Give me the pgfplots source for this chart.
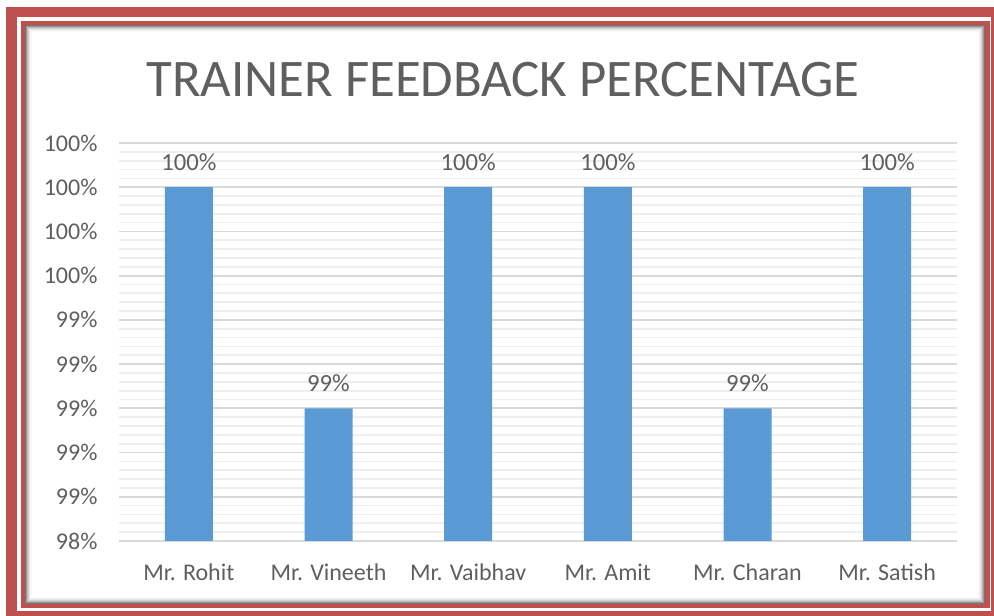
\documentclass[border=0pt]{standalone}
\usepackage{pgfplots}
\pgfplotsset{compat=1.18}
\usepackage{fontspec}
\setmainfont{Carlito}
\definecolor{barc}{HTML}{5B9BD5}
\definecolor{txt}{HTML}{5F5F5F}
\definecolor{framec}{HTML}{C0504D}
\definecolor{gmaj}{HTML}{D9D9D9}
\definecolor{gmin}{HTML}{EEEEEE}
\begin{document}
\begin{tikzpicture}[x=0.75pt,y=0.75pt]
\clip (0,0) rectangle (994,616);
\fill[white] (0,0) rectangle (994,616);
\fill[framec] (6,-20) rectangle (1010,609);
\fill[white] (17,5) rectangle (991,599);
\fill[framec] (21,8) rectangle (990,595);
\fill[white] (25,12) rectangle (985,591);
\foreach \i/\c in {0/55,1/40,2/28,3/18,4/10,5/5,6/2}
  \draw[black!\c, line width=0.75pt] (25.5+\i,12.5+\i) rectangle (984.5-\i,590.5-\i);
\node[txt, font=\fontsize{39.6}{42}\selectfont, anchor=center] at (503,536) {TRAINER FEEDBACK PERCENTAGE};
\begin{axis}[
  at={(89.25pt,56.25pt)}, anchor=south west,
  scale only axis, width=628.5pt, height=298.5pt,
  ybar, bar width=36pt,
  xmin=-0.5, xmax=5.5, ymin=98.4, ymax=100.2,
  xtick={0,1,2,3,4,5},
  xticklabels={Mr. Rohit, Mr. Vineeth, Mr. Vaibhav, Mr. Amit, Mr. Charan, Mr. Satish},
  ytick={98.4,98.6,98.8,99,99.2,99.4,99.6,99.8,100,100.2},
  yticklabels={98\%,99\%,99\%,99\%,99\%,99\%,100\%,100\%,100\%,100\%},
  minor y tick num=4,
  ymajorgrids, yminorgrids,
  major grid style={gmaj, line width=1.4pt},
  minor grid style={gmin, line width=1.3pt},
  axis line style={draw=none},
  major tick length=0pt, minor tick length=0pt,
  tick label style={txt, font=\fontsize{18}{20}\selectfont},
  yticklabel style={anchor=east, inner sep=0pt, xshift=-16pt},
  xticklabel style={anchor=north, inner sep=0pt, yshift=-17pt},
  /pgf/number format/assume math mode=true,
  nodes near coords={\pgfmathprintnumber[fixed,precision=0]{\pgfplotspointmeta}\%},
  every node near coord/.append style={txt, font=\fontsize{18.5}{20}\selectfont, anchor=south, inner sep=0pt, yshift=12.5pt},
]
\addplot[fill=barc, draw=none] coordinates {(0,100) (1,99) (2,100) (3,100) (4,99) (5,100)};
\end{axis}
\end{tikzpicture}
\end{document}
